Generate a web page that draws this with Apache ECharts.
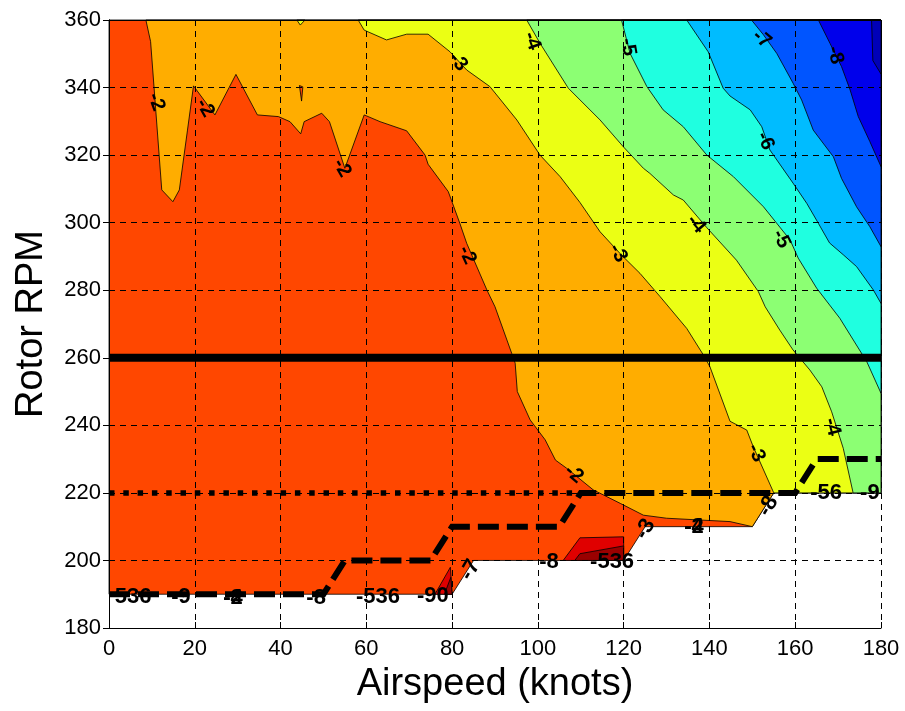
<!DOCTYPE html>
<html><head><meta charset="utf-8">
<script src="https://cdn.jsdelivr.net/npm/echarts@6/dist/echarts.min.js"></script>
<style>html,body{margin:0;padding:0;background:#fff;}#chart{width:905px;height:711px;}</style>
</head><body><div id="chart"></div>
<script>
// ---- axes ----
const xTicks = [0, 20, 40, 60, 80, 100, 120, 140, 160, 180];
const yTicks = [180, 200, 220, 240, 260, 280, 300, 320, 340, 360];
const xTitle = 'Airspeed (knots)';
const yTitle = 'Rotor RPM';

// ---- valid (computed) region boundary, [airspeed, rpm] ----
const validRegion = [[0,360],[180,360],[180,220],[155,220],[150,210],[125,210],[120,200],[85,200],[80,190],[0,190]];

// ---- contour lines (region beyond each level), [airspeed, rpm] ----
const contourM2 = [[8.6,360],[9.7,353.6],[12.3,309.7],[14.9,306.2],[16.4,309.7],[18.3,327.4],[19.7,340.5],[24.7,331.9],[29.6,343.9],[34.6,331.9],[39.5,331.4],[42.2,329.9],[44.7,326.3],[45.5,329.9],[49.6,332.4],[51.4,329.9],[55.0,316.1],[59.5,331.9],[63.2,329.9],[69.4,327.2],[73.7,320.0],[74.4,317.3],[79.1,309.2],[81.8,299.8],[83.4,293.9],[88.1,280.1],[90.0,275.1],[93.9,261.3],[94.7,258.4],[95.2,250.0],[98.2,241.6],[101.7,235.7],[104.1,229.7],[106.7,227.3],[112.9,220.9],[119.2,216.9],[124.6,213.4],[130.0,212.5],[144.8,211.5],[150,210],[155,220],[180,220],[180,360]];
const contourM3 = [[58.1,360],[59.5,357.0],[64.7,354.1],[69.4,355.8],[74.4,355.8],[79.5,350.6],[83.4,345.2],[88.8,340.3],[90.4,337.8],[95.1,330.4],[100.5,320.0],[105.2,313.6],[109.8,306.0],[114.5,297.3],[119.5,290.4],[123.8,285.0],[128.5,278.1],[134.7,268.7],[138.6,260.8],[140.1,257.4],[144.8,241.2],[148.7,238.6],[150.2,233.7],[155,220],[180,220],[180,360]];
const contourM4 = [[97.4,360],[100.5,353.1],[107.1,339.8],[114.5,330.4],[119.9,322.5],[124.6,316.1],[126.1,314.6],[131.6,308.2],[133.9,306.7],[139.4,298.5],[146.3,288.9],[151.4,279.6],[153.0,275.1],[156.4,268.2],[159.5,262.3],[163.4,256.4],[166.2,251.4],[168.5,244.0],[171.2,233.2],[173.5,220],[180,220],[180,360]];
const contourM5 = [[119.5,360],[121.5,350.1],[125.4,340.3],[129.2,333.4],[133.9,328.4],[139.4,320.0],[145.6,313.6],[152.6,304.7],[158.8,294.9],[160.7,289.5],[165.0,280.6],[170.4,271.7],[176.7,258.8],[180,249.5],[180,360]];
const contourM6 = [[134.7,360],[139.7,350.6],[143.2,339.8],[144.8,337.5],[149.5,333.4],[152.2,328.4],[154.1,321.5],[159.5,311.7],[162.7,305.7],[165.4,299.8],[168.0,294.0],[171.2,290.5],[174.3,287.0],[178.2,280.1],[180,276.1],[180,360]];
const contourM7 = [[149.8,360],[152.6,355.6],[155.7,350.1],[159.5,341.3],[161.5,336.3],[164.2,327.4],[168.9,319.5],[170.8,313.1],[174.3,304.7],[177.4,298.8],[180,292.9],[180,360]];
const contourM8 = [[165.4,360],[168.1,353.1],[170.8,346.2],[172.8,339.3],[174.7,331.4],[177.4,324.0],[180,316.6],[180,360]];
const contourM9 = [[177.8,360],[178.1,348],[180,344],[180,360]];
// small islands
const islandYellowTop = [[43.8,360],[44.6,358.5],[45.7,360]];
const islandRedSpike = [[44.4,340.6],[45.2,340.2],[44.9,336.0]];
const islandRedA = [[105.9,200],[109.8,206.7],[120,207],[120,200]];
const islandDarkA = [[108.6,200],[109.8,202],[120,204.3],[120,200]];
const islandRedB = [[76,190],[79.6,198],[80,190]];
const islandDarkB = [[78.2,190],[79.7,195],[80,190]];

// ---- overlay lines ----
const solidLine260 = [[0,260],[180,260]];
const dottedLine220 = [[0,220],[110,220]];
const dashedLimit = [[0,190],[50,190],[55,200],[75,200],[80,210],[105,210],[110,220],[160,220],[165,230],[180,230]];

// ---- contour labels: [airspeed, rpm] , text, angle ----
const labelPos = [[11.0,335.7],[22.4,334.0],[54.3,316.2],[81.4,347.6],[98.6,353.8],[121.0,352.0],[152.2,354.4],[169.3,349.6],[83.5,290.4],[118.7,291.0],[136.9,299.6],[153.0,324.2],[156.7,295.2],[108.4,225.6],[150.9,231.8],[168.6,239.5]];
const labelText = ['-2','-2','-2','-3','-4','-5','-7','-8','-2','-3','-4','-6','-5','-2','-3','-4'];
const labelAngle = [-70,-60,-60,-50,-70,-80,-40,-75,-65,-60,-50,-65,-65,-40,-65,-75];
const edgeLabelPos = [[5.6,189.2],[16.8,189.2],[28.9,188.9],[28.9,188.9],[48.3,188.9],[62.7,189.2],[75.5,189.5],[84.2,197.2],[102.6,199.5],[117.3,199.5],[125.0,209.3],[136.4,209.9],[136.4,209.9],[153.7,216.1],[167.2,220.0],[177.4,220.0]];
const edgeLabelText = ['536','-9','-2','-4','-8','-536','-90','-7','-8','-536','-3','-2','-4','-8','-56','-9'];
const edgeLabelAngle = [0,0,0,0,0,0,0,60,0,0,60,0,0,60,0,0];

// ---- drawing ----
const fills = [
  {pts: validRegion, color: '#FF4700'},
  {pts: contourM2, color: '#FFAD00'},
  {pts: islandYellowTop, color: '#EBFF14'},
  {pts: islandRedSpike, color: '#FF4700'},
  {pts: contourM3, color: '#EBFF14'},
  {pts: contourM4, color: '#8CFF73'},
  {pts: contourM5, color: '#1FFFE0'},
  {pts: contourM6, color: '#00BCFF'},
  {pts: contourM7, color: '#0055FF'},
  {pts: contourM8, color: '#0000EB'},
  {pts: contourM9, color: '#0000B8'},
  {pts: islandRedA, color: '#E00000'},
  {pts: islandDarkA, color: '#9A0000'},
  {pts: islandRedB, color: '#E00000'},
  {pts: islandDarkB, color: '#9A0000'}
];

const chart = echarts.init(document.getElementById('chart'), null, {renderer: 'canvas'});
const FONT = '"Liberation Sans", Arial, Helvetica, sans-serif';
const axisCommon = {
  type: 'value', z: 3,
  axisLine: {show: true, lineStyle: {color: '#000', width: 1}},
  axisTick: {show: true, inside: true, length: 6, lineStyle: {color: '#000', width: 1}}
};
const option = {
  animation: false,
  backgroundColor: '#fff',
  grid: {left: 109, right: 24, top: 20, bottom: 83, containLabel: false},
  xAxis: [
    Object.assign({}, axisCommon, {
      min: xTicks[0], max: xTicks[xTicks.length-1], interval: 20, position: 'bottom',
      axisLabel: {color: '#000', fontSize: 22, fontFamily: FONT, margin: 10},
      splitLine: {show: true, lineStyle: {color: '#000', width: 1, type: [6, 5]}},
      name: xTitle, nameLocation: 'middle', nameGap: 38,
      nameTextStyle: {color: '#000', fontSize: 38, fontFamily: FONT}
    }),
    Object.assign({}, axisCommon, {
      min: xTicks[0], max: xTicks[xTicks.length-1], interval: 20, position: 'top',
      axisLabel: {show: false}, splitLine: {show: false}
    })
  ],
  yAxis: [
    Object.assign({}, axisCommon, {
      min: yTicks[0], max: yTicks[yTicks.length-1], interval: 20, position: 'left',
      axisLabel: {color: '#000', fontSize: 22, fontFamily: FONT, margin: 8},
      splitLine: {show: true, lineStyle: {color: '#000', width: 1, type: [6, 5]}},
      name: yTitle, nameLocation: 'middle', nameGap: 58, nameRotate: 90,
      nameTextStyle: {color: '#000', fontSize: 38, fontFamily: FONT}
    }),
    Object.assign({}, axisCommon, {
      min: yTicks[0], max: yTicks[yTicks.length-1], interval: 20, position: 'right',
      axisLabel: {show: false}, splitLine: {show: false}
    })
  ],
  series: [
    {
      type: 'custom', z: 2, silent: true,
      data: fills.map(f => f.pts[0]),
      renderItem: function (params, api) {
        const f = fills[params.dataIndex];
        return {
          type: 'polygon', z2: params.dataIndex,
          shape: {points: f.pts.map(p => api.coord(p))},
          style: {fill: f.color, stroke: '#000', lineWidth: 0.8}
        };
      }
    },
    {
      type: 'line', z: 4, silent: true, symbol: 'none', data: solidLine260,
      lineStyle: {color: '#000', width: 8, cap: 'butt'}
    },
    {
      type: 'line', z: 4, silent: true, symbol: 'none', data: dottedLine220,
      lineStyle: {color: '#000', width: 5.5, type: [5.5, 8.8], cap: 'butt'}
    },
    {
      type: 'line', z: 4, silent: true, symbol: 'none', data: dashedLimit,
      lineStyle: {color: '#000', width: 6, type: [21, 8], cap: 'butt', join: 'miter'}
    },
    {
      type: 'custom', z: 5, silent: true,
      data: labelPos,
      renderItem: function (params, api) {
        const p = api.coord([api.value(0), api.value(1)]);
        return {
          type: 'text', x: p[0], y: p[1],
          rotation: labelAngle[params.dataIndex] * Math.PI / 180,
          style: {text: labelText[params.dataIndex], fill: '#000', font: 'bold 20px ' + FONT, align: 'center', verticalAlign: 'middle'}
        };
      }
    },
    {
      type: 'custom', z: 5, silent: true,
      data: edgeLabelPos,
      renderItem: function (params, api) {
        const p = api.coord([api.value(0), api.value(1)]);
        return {
          type: 'text', x: p[0], y: p[1],
          rotation: edgeLabelAngle[params.dataIndex] * Math.PI / 180,
          style: {text: edgeLabelText[params.dataIndex], fill: '#000', font: 'bold 22px ' + FONT, align: 'center', verticalAlign: 'middle'}
        };
      }
    }
  ]
};
chart.setOption(option);
</script>
</body></html>
